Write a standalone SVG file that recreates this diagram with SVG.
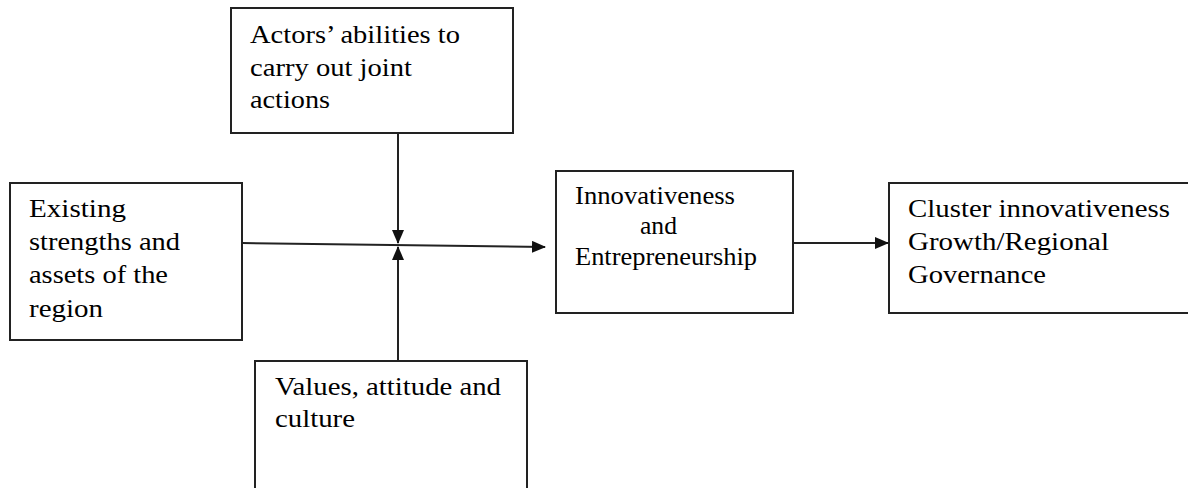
<svg xmlns="http://www.w3.org/2000/svg" width="1188" height="488" viewBox="0 0 1188 488">
<defs>
<style>
.box{fill:#fff;stroke:#222;stroke-width:2}
.lbl{font-family:"Liberation Serif","Times New Roman",serif;font-size:26px;fill:#000}
.conn{stroke:#222;stroke-width:2;fill:none}
</style>
<marker id="ah" markerWidth="14" markerHeight="12" refX="13" refY="6" orient="auto" markerUnits="userSpaceOnUse">
<path d="M0,0 L14,6 L0,12 Z" fill="#111"/>
</marker>
</defs>
<rect width="1188" height="488" fill="#fff"/>
<g id="actors">
<rect class="box" x="231" y="8" width="282" height="125"/>
<text class="lbl" x="250" y="43" textLength="210" lengthAdjust="spacingAndGlyphs">Actors’ abilities to</text>
<text class="lbl" x="250" y="76" textLength="162" lengthAdjust="spacingAndGlyphs">carry out joint</text>
<text class="lbl" x="250" y="108" textLength="80" lengthAdjust="spacingAndGlyphs">actions</text>
</g>
<g id="existing">
<rect class="box" x="10" y="183" width="232" height="157"/>
<text class="lbl" x="29" y="217" textLength="97" lengthAdjust="spacingAndGlyphs">Existing</text>
<text class="lbl" x="29" y="250" textLength="151" lengthAdjust="spacingAndGlyphs">strengths and</text>
<text class="lbl" x="29" y="283" textLength="139" lengthAdjust="spacingAndGlyphs">assets of the</text>
<text class="lbl" x="29" y="317" textLength="74" lengthAdjust="spacingAndGlyphs">region</text>
</g>
<g id="innovativeness">
<rect class="box" x="556" y="171" width="237" height="142"/>
<text class="lbl" x="575" y="204" textLength="160" lengthAdjust="spacingAndGlyphs">Innovativeness</text>
<text class="lbl" x="640" y="234" textLength="37" lengthAdjust="spacingAndGlyphs">and</text>
<text class="lbl" x="575" y="265" textLength="182" lengthAdjust="spacingAndGlyphs">Entrepreneurship</text>
</g>
<g id="cluster">
<rect class="box" x="889" y="183" width="310" height="130"/>
<text class="lbl" x="908" y="217" textLength="262" lengthAdjust="spacingAndGlyphs">Cluster innovativeness</text>
<text class="lbl" x="908" y="250" textLength="201" lengthAdjust="spacingAndGlyphs">Growth/Regional</text>
<text class="lbl" x="908" y="283" textLength="138" lengthAdjust="spacingAndGlyphs">Governance</text>
</g>
<g id="values">
<rect class="box" x="255" y="361" width="272" height="140"/>
<text class="lbl" x="275" y="395" textLength="226" lengthAdjust="spacingAndGlyphs">Values, attitude and</text>
<text class="lbl" x="275" y="427" textLength="80" lengthAdjust="spacingAndGlyphs">culture</text>
</g>
<g id="connectors">
<line class="conn" x1="242" y1="243" x2="545" y2="247" marker-end="url(#ah)"/>
<line class="conn" x1="398" y1="133" x2="398" y2="243" marker-end="url(#ah)"/>
<line class="conn" x1="398" y1="361" x2="398" y2="247" marker-end="url(#ah)"/>
<line class="conn" x1="793" y1="243" x2="888" y2="243" marker-end="url(#ah)"/>
</g>
</svg>
